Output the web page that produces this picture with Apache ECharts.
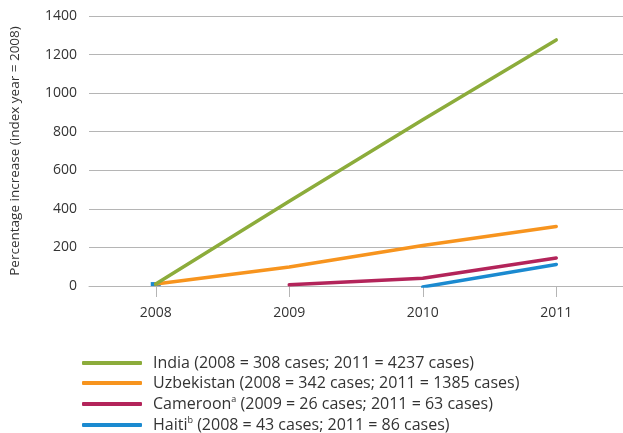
<!DOCTYPE html>
<html>
<head>
<meta charset="utf-8">
<script src="https://cdn.jsdelivr.net/npm/echarts@6/dist/echarts.min.js"></script>
<style>
  html, body { margin: 0; padding: 0; background: #fff; }
  #chart { width: 623px; height: 433px; }
</style>
</head>
<body>
<div id="chart"></div>
<script>
var years = ['2008', '2009', '2010', '2011'];
var india = [10, 440, 862, 1276];
var uzbekistan = [10, 98, 210, 308];
var cameroon = [null, 6, 40, 145];
var haiti = [10, null, -5, 112];
var seriesNames = [
  'India (2008 = 308 cases; 2011 = 4237 cases)',
  'Uzbekistan (2008 = 342 cases; 2011 = 1385 cases)',
  'Cameroon{sup|a} (2009 = 26 cases; 2011 = 63 cases)',
  'Haiti{sup|b} (2008 = 43 cases; 2011 = 86 cases)'
];
var colors = ['#8cac3b', '#f7941e', '#b3245a', '#1b8ad0'];

chart01();
function chart01(){
  var myChart = echarts.init(document.getElementById('chart'));
  var font = 'Open Sans';

  function lineSeries(i, data) {
    return {
      name: seriesNames[i],
      type: 'line',
      data: data,
      symbol: 'none',
      showSymbol: true,
      connectNulls: false,
      lineStyle: { width: 3.5, color: colors[i], cap: 'round' },
      itemStyle: { color: colors[i] },
      z: 10 - i
    };
  }

  // Haiti 2008 point is isolated, draw it as a short dash
  var haitiData = haiti.map(function (v, k) {
    if (k === 0) return { value: v, symbol: 'rect', symbolSize: [10, 4] };
    return v;
  });

  var option = {
    color: colors,
    animation: false,
    grid: { left: 83, top: 16, width: 544, height: 270, containLabel: false },
    xAxis: {
      type: 'category',
      data: years,
      boundaryGap: true,
      axisLine: { show: true, lineStyle: { color: '#b5b5b5', width: 1 } },
      axisTick: { show: true, alignWithLabel: true, length: 11, lineStyle: { color: '#b5b5b5' } },
      axisLabel: { color: '#333', fontSize: 14, fontFamily: font, margin: 20 }
    },
    yAxis: {
      type: 'value',
      min: 0,
      max: 1400,
      interval: 200,
      name: 'Percentage increase (index year = 2008)',
      nameLocation: 'middle',
      nameRotate: 90,
      nameGap: 67,
      nameTextStyle: { color: '#333', fontSize: 13.5, fontFamily: font },
      axisLine: { show: false },
      axisTick: { show: false },
      axisLabel: {
        color: '#333', fontSize: 14, fontFamily: font, margin: 12,
        formatter: function (v) { return String(v); }
      },
      splitLine: { lineStyle: { color: '#b5b5b5', width: 1 } }
    },
    legend: {
      orient: 'vertical',
      left: 82,
      top: 355,
      height: 120,
      padding: 0,
      itemWidth: 60,
      itemHeight: 4,
      itemGap: 4,
      icon: 'roundRect',
      textStyle: {
        color: '#333',
        fontSize: 16,
        fontFamily: font,
        padding: [0, 0, 0, 6],
        rich: {
          sup: { fontSize: 9, fontFamily: font, color: '#333', verticalAlign: 'top', padding: [0, 0, 9, 0] }
        }
      },
      data: seriesNames
    },
    series: [
      lineSeries(0, india),
      lineSeries(1, uzbekistan),
      lineSeries(2, cameroon),
      lineSeries(3, haitiData)
    ]
  };
  myChart.setOption(option);
}
</script>
</body>
</html>
